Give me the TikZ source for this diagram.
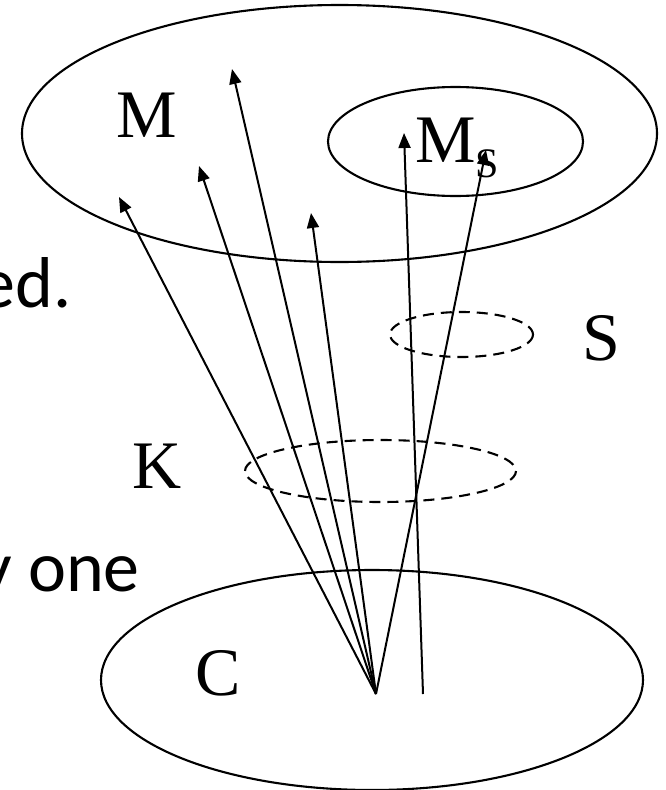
\documentclass[tikz,border=0pt]{standalone}
\usepackage{fontspec}
\setmainfont{Liberation Serif}
\newfontfamily\sansf{Carlito}
\usetikzlibrary{arrows.meta}
\begin{document}
\begin{tikzpicture}[x=1pt,y=-1pt]
\tikzset{
 setline/.style={line width=2.1pt},
 dashset/.style={line width=2.1pt, dash pattern=on 11pt off 7pt},
 lab/.style={font=\fontsize{68}{80}\selectfont, inner sep=0pt, anchor=base west},
 txt/.style={font=\sansf\fontsize{72}{86}\selectfont, inner sep=0pt, anchor=base east},
 arr/.style={line width=2pt, -{Triangle[length=15pt,width=12pt]}},
}
\useasboundingbox (0,0) rectangle (665,790);
% sets
\draw[setline] (339.5,133.5) ellipse [x radius=317.5, y radius=128.5];
\draw[setline] (455.5,141.5) ellipse [x radius=127.5, y radius=54.5];
\draw[dashset] (461.5,334.5) ellipse [x radius=71.5, y radius=22.5];
\draw[dashset] (380.5,471) ellipse [x radius=135.5, y radius=31];
\draw[setline] (372,680) ellipse [x radius=271, y radius=110];
% labels
\node[lab] (m) at (116,137) {M};
\node[lab] (ms) at (415,162) {M\raisebox{-15pt}{\fontsize{42}{50}\selectfont S}};
\node[lab] (s) at (582,360) {S};
\node[lab] (k) at (132,488) {K};
\node[lab] (c) at (195,695) {C};
% text cut off at the left edge, as in the reference
\node[txt] (t1) at (72,307) {ed.};
\node[txt] (t2) at (140,591) {y one};
% arrows
\coordinate (o1) at (376,694);
\coordinate (o2) at (423,694);
\coordinate (a1) at (119,197);
\coordinate (a2) at (199,166);
\coordinate (a3) at (232,69);
\coordinate (a4) at (311,213);
\coordinate (a5) at (404,133);
\coordinate (a6) at (486,150);
\draw[arr] (o1) -- (a1);
\draw[arr] (o1) -- (a2);
\draw[arr] (o1) -- (a3);
\draw[arr] (o1) -- (a4);
\draw[arr] (o2) -- (a5);
\draw[arr] (o1) -- (a6);
\end{tikzpicture}
\end{document}
